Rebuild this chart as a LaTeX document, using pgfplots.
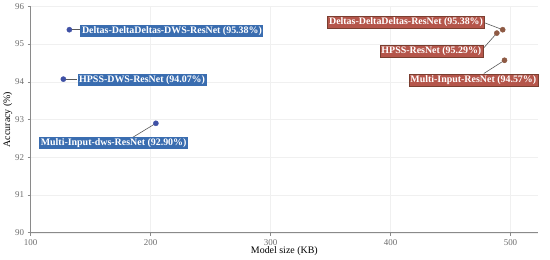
\documentclass[border=0pt]{standalone}
\usepackage{pgfplots}
\pgfplotsset{compat=1.18}
\usepackage{fontspec}
\setmainfont{Liberation Serif}
\usetikzlibrary{calc}

\definecolor{dwsdot}{HTML}{3F51A5}
\definecolor{dwsbox}{HTML}{3A6DB0}
\definecolor{resdot}{HTML}{8E5A44}
\definecolor{resbox}{HTML}{B5564B}
\definecolor{resedge}{HTML}{7A3E30}
\definecolor{axgray}{HTML}{8A8A8A}

\tikzset{lab/.style={font=\bfseries\fontsize{10}{11}\selectfont, text=white, inner sep=1.6pt}}

\begin{document}
\begin{tikzpicture}
\begin{axis}[
  scale only axis,
  width=511pt, height=228pt,
  xmin=100, xmax=523, ymin=90, ymax=96,
  xtick={100,200,300,400,500},
  ytick={90,91,92,93,94,95,96},
  axis x line*=bottom, axis y line*=left,
  axis line style={axgray, line width=0.8pt},
  tick style={axgray, line width=0.5pt},
  tick align=outside, major tick length=3pt,
  grid=major, grid style={line width=.3pt, draw=gray!12},
  ticklabel style={font=\fontsize{9}{10}\selectfont, text=gray!85!black},
  /pgf/number format/assume math mode=true,
  xlabel={Model size (KB)}, ylabel={Accuracy (\%)},
  label style={font=\fontsize{10}{11}\selectfont},
  xlabel style={yshift=5pt},
  ylabel style={yshift=-4pt},
  clip=false,
]
\coordinate (bl) at (rel axis cs:0,0);
\coordinate (tr) at (rel axis cs:1,1);

% connectors
\draw[gray!70!black, line width=0.6pt] (axis cs:132.3,95.38) -- (axis cs:141.4,95.38);
\draw[gray!70!black, line width=0.6pt] (axis cs:127.3,94.07) -- (axis cs:139,94.07);
\draw[gray!70!black, line width=0.6pt] (axis cs:204.4,92.90) -- (axis cs:183.7,92.50);
\draw[gray!70!black, line width=0.6pt] (axis cs:493.5,95.38) -- (axis cs:478.6,95.56);
\draw[gray!70!black, line width=0.6pt] (axis cs:488.6,95.29) -- (axis cs:477.2,94.88);
\draw[gray!70!black, line width=0.6pt] (axis cs:495.0,94.57) -- (axis cs:477.8,94.22);

\addplot[only marks, mark=*, mark size=2.6pt, dwsdot] table {
x y
132.3 95.38
127.3 94.07
204.4 92.90
};
\addplot[only marks, mark=*, mark size=2.6pt, resdot] table {
x y
493.5 95.38
488.6 95.29
495.0 94.57
};

\node[lab, fill=dwsbox, anchor=west] at (axis cs:141.4,95.35) {Deltas-DeltaDeltas-DWS-ResNet (95.38\%)};
\node[lab, fill=dwsbox, anchor=west] at (axis cs:139,94.05) {HPSS-DWS-ResNet (94.07\%)};
\node[lab, fill=dwsbox] at (axis cs:169.2,92.37) {Multi-Input-dws-ResNet (92.90\%)};
\node[lab, fill=resbox, draw=resedge, line width=0.5pt, anchor=east] at (axis cs:478.6,95.58) {Deltas-DeltaDeltas-ResNet (95.38\%)};
\node[lab, fill=resbox, draw=resedge, line width=0.5pt, anchor=east] at (axis cs:477.2,94.82) {HPSS-ResNet (95.29\%)};
\node[lab, fill=resbox, draw=resedge, line width=0.5pt] at (axis cs:469,94.05) {Multi-Input-ResNet (94.57\%)};
\end{axis}
\path ($(bl)+(-27pt,-26pt)$) rectangle ($(tr)+(12pt,6pt)$);
\end{tikzpicture}
\end{document}
